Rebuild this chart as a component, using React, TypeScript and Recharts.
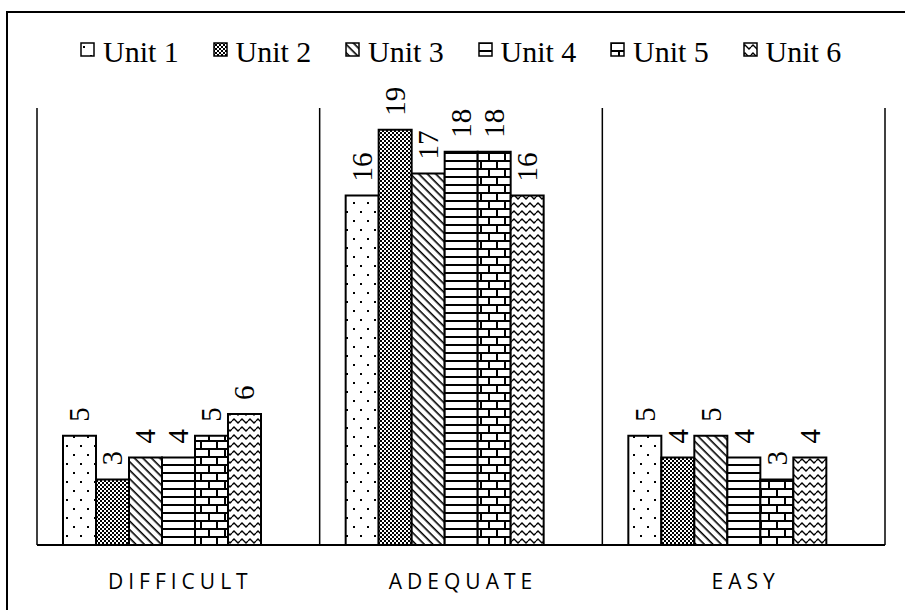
import { BarChart, Bar, XAxis, YAxis, CartesianGrid, Legend, LabelList } from "recharts";

const categories = ["DIFFICULT", "ADEQUATE", "EASY"];
const unitNames = ["Unit 1", "Unit 2", "Unit 3", "Unit 4", "Unit 5", "Unit 6"];
const unit1 = [5, 16, 5];
const unit2 = [3, 19, 4];
const unit3 = [4, 17, 5];
const unit4 = [4, 18, 4];
const unit5 = [5, 18, 3];
const unit6 = [6, 16, 4];

const series = [unit1, unit2, unit3, unit4, unit5, unit6];
const keys = ["u1", "u2", "u3", "u4", "u5", "u6"];

const data = categories.map((name, i) => {
  const row: Record<string, string | number | null> = { name };
  series.forEach((s, j) => (row[keys[j]] = s[i]));
  // empty slot Excel leaves after the last series
  row.spacer = null;
  return row;
});

const SERIF = "'Liberation Serif', 'Times New Roman', serif";

// fill patterns, one per unit
function Patterns({ prefix }: { prefix: string }) {
  return (
    <defs>
      <pattern id={`${prefix}1`} width="14" height="18" patternUnits="userSpaceOnUse">
        <rect width="14" height="18" fill="#fff" />
        <rect x="3" y="4" width="2" height="2" fill="#000" />
        <rect x="10" y="13" width="2" height="2" fill="#000" />
      </pattern>
      <pattern id={`${prefix}2`} width="4" height="4" patternUnits="userSpaceOnUse">
        <rect width="4" height="4" fill="#fff" />
        <rect x="0" y="0" width="2" height="2" fill="#000" />
        <rect x="2" y="2" width="2" height="2" fill="#000" />
      </pattern>
      <pattern id={`${prefix}3`} width="6" height="6" patternUnits="userSpaceOnUse" patternTransform="rotate(45)">
        <rect width="6" height="6" fill="#fff" />
        <rect x="0" y="0" width="6" height="1.6" fill="#000" />
      </pattern>
      <pattern id={`${prefix}4`} width="10" height="8" patternUnits="userSpaceOnUse">
        <rect width="10" height="8" fill="#fff" />
        <rect x="0" y="0" width="10" height="2" fill="#000" />
      </pattern>
      <pattern id={`${prefix}5`} width="16" height="16" patternUnits="userSpaceOnUse">
        <rect width="16" height="16" fill="#fff" />
        <rect x="0" y="0" width="16" height="2" fill="#000" />
        <rect x="0" y="8" width="16" height="2" fill="#000" />
        <rect x="0" y="0" width="2" height="8" fill="#000" />
        <rect x="8" y="8" width="2" height="8" fill="#000" />
      </pattern>
      <pattern id={`${prefix}6`} width="8" height="8" patternUnits="userSpaceOnUse">
        <rect width="8" height="8" fill="#fff" />
        <polyline points="0,5 2,3 4,5 6,7 8,5" fill="none" stroke="#000" strokeWidth="1.4" />
      </pattern>
    </defs>
  );
}

function ValueLabel(props: any) {
  const { x, y, width, value } = props;
  if (value == null) return null;
  const cx = x + width / 2;
  const ty = y - 14;
  return (
    <text
      x={cx}
      y={ty}
      dy="0.34em"
      transform={`rotate(-90, ${cx}, ${ty})`}
      textAnchor="start"
      fontFamily="Liberation Serif"
      fontSize={29}
      fill="#000"
    >
      {value}
    </text>
  );
}

function CategoryTick({ x, y, payload }: any) {
  return (
    <text
      x={x + 2}
      y={y + 44}
      textAnchor="middle"
      style={{ fontFamily: "'Open Sans', sans-serif", fontSize: 21, letterSpacing: 5, fill: "#000" }}
    >
      {payload.value}
    </text>
  );
}

function LegendContent() {
  return (
    <div style={{ display: "flex", whiteSpace: "nowrap" }}>
      <svg width="0" height="0" style={{ position: "absolute" }}>
        <Patterns prefix="lg" />
      </svg>
      {unitNames.map((n, i) => (
        <span key={n} style={{ display: "inline-flex", alignItems: "flex-start", width: 132.5 }}>
          <svg width="15" height="15" style={{ marginTop: 7 }}>
            <rect x="1" y="1" width="13" height="13" fill={`url(#lg${i + 1})`} stroke="#000" strokeWidth="1.5" />
          </svg>
          <span style={{ marginLeft: 8, fontFamily: SERIF, fontSize: 30, lineHeight: "34px", color: "#000" }}>{n}</span>
        </span>
      ))}
    </div>
  );
}

export default function App() {
  return (
    <div style={{ position: "absolute", left: 0, top: 0, width: 905, height: 610, background: "#fff", overflow: "hidden" }}>
      <div
        style={{
          position: "absolute",
          left: 6,
          top: 11,
          width: 920,
          height: 620,
          border: "2px solid #000",
          boxSizing: "border-box",
        }}
      />
      <BarChart
        width={905}
        height={610}
        data={data}
        margin={{ top: 108, right: 20, left: 37, bottom: 25 }}
        barGap={0}
        barCategoryGap={26}
        style={{ position: "absolute", left: 0, top: 0 }}
      >
        <Patterns prefix="pt" />
        <CartesianGrid
          horizontal={false}
          stroke="#000"
          strokeWidth={1.5}
          verticalCoordinatesGenerator={({ offset }: any) =>
            [0, 1, 2, 3].map((i) => offset.left + (i * offset.width) / categories.length)
          }
        />
        <XAxis
          dataKey="name"
          height={40}
          axisLine={{ stroke: "#000", strokeWidth: 2 }}
          tickLine={false}
          tickSize={0}
          tickMargin={0}
          tick={<CategoryTick />}
          interval={0}
        />
        <YAxis hide domain={[0, 20]} />
        <Legend
          verticalAlign="middle"
          content={<LegendContent />}
          wrapperStyle={{ top: 35, left: 80, width: 820 }}
        />
        {keys.map((k, i) => (
          <Bar key={k} dataKey={k} fill={`url(#pt${i + 1})`} stroke="#000" strokeWidth={2} isAnimationActive={false}>
            <LabelList dataKey={k} content={<ValueLabel />} />
          </Bar>
        ))}
        <Bar dataKey="spacer" legendType="none" isAnimationActive={false} />
      </BarChart>
    </div>
  );
}
